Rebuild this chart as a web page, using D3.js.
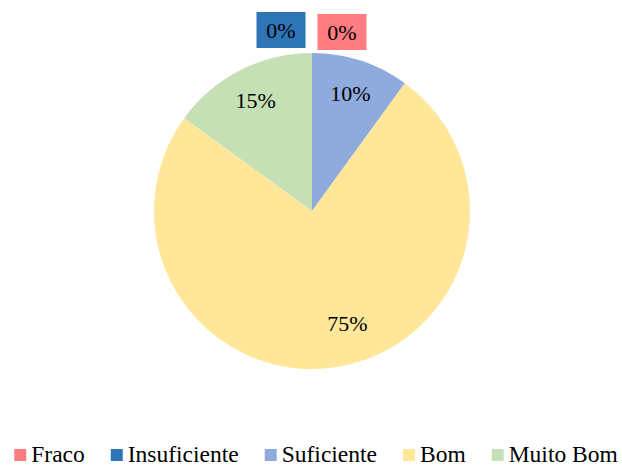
<!DOCTYPE html>
<html>
<head>
<meta charset="utf-8">
<script src="https://cdn.jsdelivr.net/npm/d3@7"></script>
<style>
  body { margin: 0; background: #fff; }
  text { font-family: "Liberation Serif", "Times New Roman", serif; }
</style>
</head>
<body>
<script>
const categories = ['Fraco', 'Insuficiente', 'Suficiente', 'Bom', 'Muito Bom'];
const values = [0, 0, 10, 75, 15];
const labels = ['0%', '0%', '10%', '75%', '15%'];
const colors = ['#FF7C80', '#2E75B6', '#8FAADC', '#FFE699', '#C5E0B4'];

const width = 622;
const height = 465;
const cx = 312;
const cy = 211;
const radius = 158;

// small nudges so labels sit where the original put them
const nudge = {
    'Fraco': [30, 1],
    'Insuficiente': [-31, -1],
    'Bom': [16, -10]
};

const svg = d3.select('body')
    .append('svg')
    .attr('width', width)
    .attr('height', height);

const data = categories.map((c, i) => ({ name: c, value: values[i], label: labels[i], color: colors[i] }));

const pie = d3.pie()
    .sort(null)
    .value(d => d.value);

const arc = d3.arc()
    .innerRadius(0)
    .outerRadius(radius);

const labelArc = d3.arc()
    .innerRadius(124)
    .outerRadius(124);

const outArc = d3.arc()
    .innerRadius(180)
    .outerRadius(180);

const arcs = pie(data);

const g = svg.append('g')
    .attr('transform', `translate(${cx}, ${cy})`);

g.selectAll('path')
    .data(arcs)
    .enter()
    .append('path')
    .attr('d', arc)
    .attr('fill', d => d.data.color);

const lab = g.selectAll('g.lab')
    .data(arcs)
    .enter()
    .append('g')
    .attr('class', 'lab')
    .attr('transform', d => {
        const p = d.data.value === 0 ? outArc.centroid(d) : labelArc.centroid(d);
        const n = nudge[d.data.name] || [0, 0];
        return `translate(${p[0] + n[0]}, ${p[1] + n[1]})`;
    });

lab.filter(d => d.data.value === 0)
    .append('rect')
    .attr('x', -24.5)
    .attr('y', -18)
    .attr('width', 49)
    .attr('height', 36)
    .attr('fill', d => d.data.color);

lab.append('text')
    .attr('text-anchor', 'middle')
    .attr('dy', '0.35em')
    .attr('font-size', 22)
    .attr('fill', '#000')
    .text(d => d.data.label);

// legend
const legend = svg.append('g');
const items = legend.selectAll('g')
    .data(data)
    .enter()
    .append('g');

items.append('rect')
    .attr('width', 12)
    .attr('height', 12)
    .attr('y', -6)
    .attr('fill', d => d.color);

items.append('text')
    .attr('x', 17)
    .attr('y', 7.3)
    .attr('font-size', 23.5)
    .attr('fill', '#000')
    .text(d => d.name);

let xPos = 0;
items.each(function () {
    const w = d3.select(this).select('text').node().getComputedTextLength();
    d3.select(this).attr('transform', `translate(${xPos}, 0)`);
    xPos += 17 + w + 26;
});
const total = xPos - 26;
legend.attr('transform', `translate(${316 - total / 2}, 455)`);
</script>
</body>
</html>
